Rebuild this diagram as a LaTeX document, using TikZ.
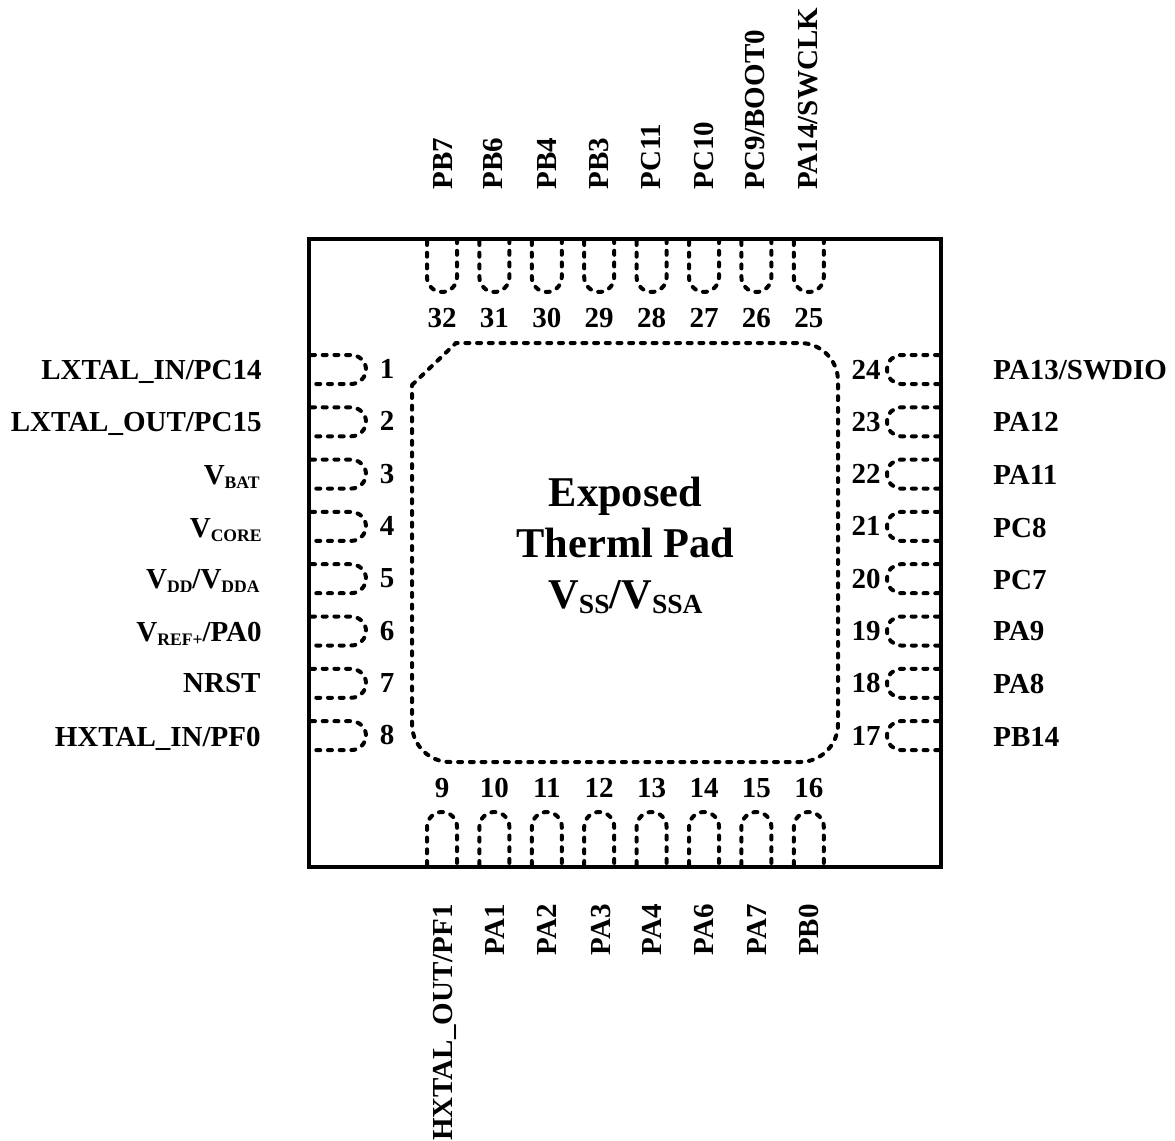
\documentclass[tikz,border=0pt]{standalone}
\usepackage{fontspec}
\setmainfont{Liberation Serif}
\newcommand{\PinSub}[1]{\raisebox{-2pt}{\fontsize{8.8}{10}\selectfont #1}}
\newcommand{\PadSub}[1]{\raisebox{-2.8pt}{\fontsize{13.8}{15}\selectfont #1}}
\tikzstyle{PinLabel}=[font=\fontsize{14.5}{16}\selectfont\bfseries, inner sep=0pt, text height=9.6pt, text depth=0pt]
\tikzstyle{PinNum}=[PinLabel]
\tikzstyle{PadLabel}=[font=\fontsize{21.2}{25}\selectfont\bfseries, inner sep=0pt, text height=14pt, text depth=0pt]
\tikzstyle{Package}=[line width=2.2pt, line join=miter]
\tikzstyle{PinEdge}=[line width=2pt, line cap=round, dash pattern=on 2pt off 3.85pt]
\tikzstyle{PadEdge}=[PinEdge]
\begin{document}
\begin{tikzpicture}[x=0.5pt, y=-0.5pt]
\useasboundingbox (0,0) rectangle (1175,1141);
\draw[Package](309,239) rectangle (941,867);

% pins
\foreach \i in {0,...,7}{
\draw[PinEdge, shift={(52.4*\i,0)}](427,241) -- (427,277) .. controls (427,285.3) and (433.7,292) .. (442,292) .. controls (450.3,292) and (457,285.3) .. (457,277) -- (457,241);
\draw[PinEdge, shift={(52.4*\i,0)}](427,865) -- (427,827) .. controls (427,818.7) and (433.7,812) .. (442,812) .. controls (450.3,812) and (457,818.7) .. (457,827) -- (457,865);
\draw[PinEdge, shift={(0,52.3*\i)}](311,355) -- (351,355) .. controls (359.3,355) and (366,361.5) .. (366,369.5) .. controls (366,377.5) and (359.3,384) .. (351,384) -- (311,384);
\draw[PinEdge, shift={(0,52.3*\i)}](939,355) -- (901,355) .. controls (893,355) and (887,361.5) .. (887,369.5) .. controls (887,377.5) and (893,384) .. (901,384) -- (939,384);
}

% thermal pad
\draw[PadEdge](412,385) -- (456,343) -- (800,343) .. controls (821,343) and (838,360) .. (838,381) -- (838,724) .. controls (838,745) and (821,762) .. (800,762) -- (450,762) .. controls (429,762) and (412,745) .. (412,724) -- cycle;
\node[PadLabel](PadA) at (625.5,492.5) {Exposed};
\node[PadLabel](PadB) at (625.5,543.5) {Therml Pad};
\node[PadLabel](PadC) at (625.5,594) {V\PadSub{SS}/V\PadSub{SSA}};

% pin numbers
\foreach \n [count=\i from 0] in {1,...,8}
  \node[PinNum](Num\n) at (387,369+52.3*\i) {\n};
\foreach \n [count=\i from 0] in {9,...,16}
  \node[PinNum](Num\n) at (442+52.4*\i,788) {\n};
\foreach \n [count=\i from 0] in {17,...,24}
  \node[PinNum](Num\n) at (866,735.5-52.3*\i) {\n};
\foreach \n [count=\i from 0] in {32,31,...,25}
  \node[PinNum](Num\n) at (442+52.4*\i,318) {\n};

% pin names
\node[PinLabel, anchor=east](NameL1) at (262,369.5) {LXTAL\_IN/PC14};
\node[PinLabel, anchor=east](NameL2) at (262,422) {LXTAL\_OUT/PC15};
\node[PinLabel, anchor=east](NameL3) at (260,475) {V\PinSub{BAT}};
\node[PinLabel, anchor=east](NameL4) at (262,528) {V\PinSub{CORE}};
\node[PinLabel, anchor=east](NameL5) at (260,579) {V\PinSub{DD}/V\PinSub{DDA}};
\node[PinLabel, anchor=east](NameL6) at (262,632) {V\PinSub{REF+}/PA0};
\node[PinLabel, anchor=east](NameL7) at (261,683) {NRST};
\node[PinLabel, anchor=east](NameL8) at (261,737) {HXTAL\_IN/PF0};

\foreach \t/\y [count=\i] in {PB14/737,PA8/684,PA9/631,PC7/580,PC8/528,PA11/475,PA12/422,{PA13/SWDIO}/369.5}
  \node[PinLabel, anchor=west](NameR\i) at (993,\y) {\t};

\foreach \t/\x [count=\i] in {PB7/442.5,PB6/493,PB4/547,PB3/599,PC11/650.5,PC10/703.5,{PC9/BOOT0}/755,{PA14/SWCLK}/808}
  \node[PinLabel, rotate=90, anchor=west](NameT\i) at (\x,190) {\t};

\foreach \t/\x [count=\i] in {{HXTAL\_OUT/PF1}/442.5,PA1/495,PA2/546.5,PA3/600.5,PA4/652,PA6/703.5,PA7/757,PB0/808.5}
  \node[PinLabel, rotate=90, anchor=east](NameB\i) at (\x,904) {\t};
\end{tikzpicture}
\end{document}
